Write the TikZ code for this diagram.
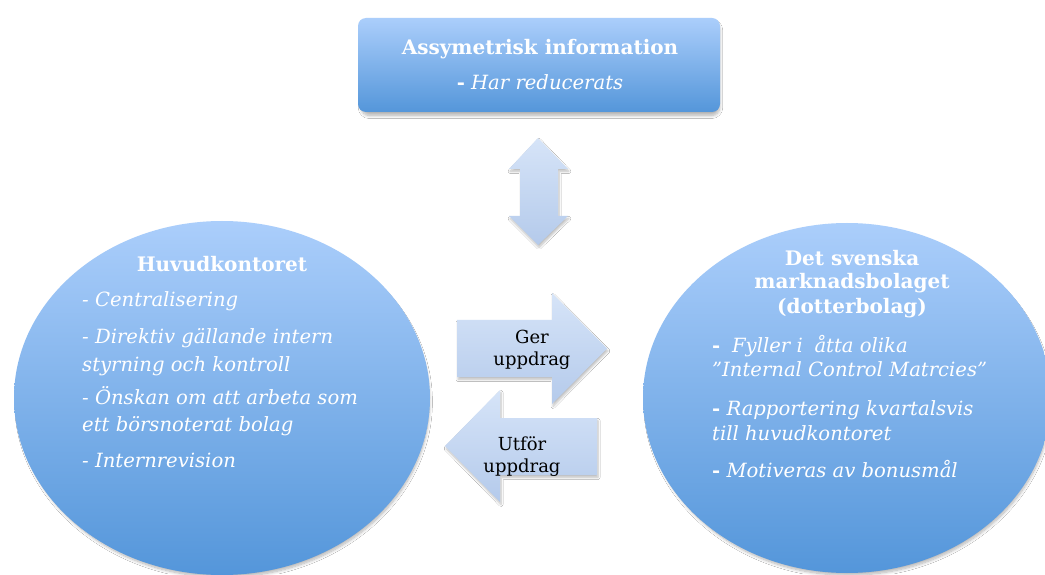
\documentclass[tikz,border=0pt]{standalone}
\usepackage{fontspec}
\setmainfont{DejaVu Serif}
\usetikzlibrary{shapes.geometric,shadows.blur}

\definecolor{boxtop}{RGB}{171,206,251}
\definecolor{boxbot}{RGB}{84,150,218}
\definecolor{arrtop}{RGB}{214,228,248}
\definecolor{arrbot}{RGB}{180,202,235}

\newcommand\headfont{\fontsize{20}{24}\selectfont\bfseries}
\newcommand\itemfont{\fontsize{19.6}{24}\selectfont\itshape}
\newcommand\arrfont{\fontsize{18}{22}\selectfont}
\newcommand\bdash{{\upshape\bfseries -}}
\newcommand\qt{\symbol{34}}

\begin{document}
\begin{tikzpicture}[x=1pt,y=1pt,
  softshadow/.style={blur shadow={shadow xshift=1.5pt,shadow yshift=-4pt,
      shadow scale=0.99,shadow blur steps=10,shadow blur radius=3pt,
      shadow opacity=30}},
  blob/.style={ellipse,inner sep=0pt,draw=none,
      top color=boxtop,bottom color=boxbot,softshadow},
  panel/.style={rectangle,rounded corners=8pt,inner sep=0pt,draw=none,
      top color=boxtop,bottom color=boxbot,softshadow},
  blockarrow/.style={draw=none,top color=arrtop,bottom color=arrbot,
      blur shadow={shadow xshift=1pt,shadow yshift=-2.5pt,
      shadow blur steps=6,shadow blur radius=2pt,shadow opacity=25}},
  head/.style={text=white,font=\headfont,inner sep=0pt},
  line/.style={text=white,font=\itemfont,inner sep=0pt,anchor=base west},
  arrtext/.style={text=black,font=\arrfont,inner sep=0pt,anchor=base}
]
\useasboundingbox (0,0) rectangle (1045,574);
\fill[white] (0,0) rectangle (1045,574);

% top panel
\node[panel,minimum width=362pt,minimum height=94pt] (info) at (539,509) {};
\node[head,anchor=base] (infotitle) at (540,519) {Assymetrisk information};
\node[text=white,font=\itemfont,inner sep=0pt,anchor=base] (infoline) at (540,484)
  {\bdash\ Har reducerats};

% the two organisations
\node[blob,minimum width=416pt,minimum height=354pt] (hq) at (222,176) {};
\node[blob,minimum width=408pt,minimum height=350pt] (sub) at (847,176) {};

% double arrow between panel and organisations
\path[blockarrow] (538,436) -- (568,405) -- (558,405) -- (558,358) -- (568,358)
  -- (538,329) -- (509,358) -- (520,358) -- (520,405) -- (509,405) -- cycle;

% arrow to the subsidiary
\path[blockarrow] (457,254) -- (552,254) -- (552,281) -- (607,225.5)
  -- (552,170) -- (552,197) -- (457,197) -- cycle;
% arrow back to the head office
\path[blockarrow] (597,156) -- (500,156) -- (500,184) -- (445,128)
  -- (500,72) -- (500,99) -- (597,99) -- cycle;

\node[arrtext] (ger1) at (532,231) {Ger};
\node[arrtext] (ger2) at (532,209) {uppdrag};
\node[arrtext] (utf1) at (522,124) {Utför};
\node[arrtext] (utf2) at (522,102) {uppdrag};

% head office text
\node[head,anchor=base] (hqtitle) at (222,302) {Huvudkontoret};
\node[line] (hq1) at (82,267) {- Centralisering};
\node[line] (hq2) at (82,230) {- Direktiv gällande intern};
\node[line] (hq3) at (82,203) {styrning och kontroll};
\node[line] (hq4) at (82,170) {- Önskan om att arbeta som};
\node[line] (hq5) at (82,143) {ett börsnoterat bolag};
\node[line] (hq6) at (82,107) {- Internrevision};

% subsidiary text
\node[head,anchor=base] (subt1) at (852,308) {Det svenska};
\node[head,anchor=base] (subt2) at (852,285) {marknadsbolaget};
\node[head,anchor=base] (subt3) at (852,260) {(dotterbolag)};
\node[line] (sub1) at (712,222) {\bdash\hspace{0.6em}Fyller i\hspace{0.6em}åtta olika};
\node[line] (sub2) at (712,197) {\qt Internal Control Matrcies\qt};
\node[line] (sub3) at (712,159) {\bdash\ Rapportering kvartalsvis};
\node[line] (sub4) at (712,134) {till huvudkontoret};
\node[line] (sub5) at (712,97) {\bdash\ Motiveras av bonusmål};
\end{tikzpicture}
\end{document}
